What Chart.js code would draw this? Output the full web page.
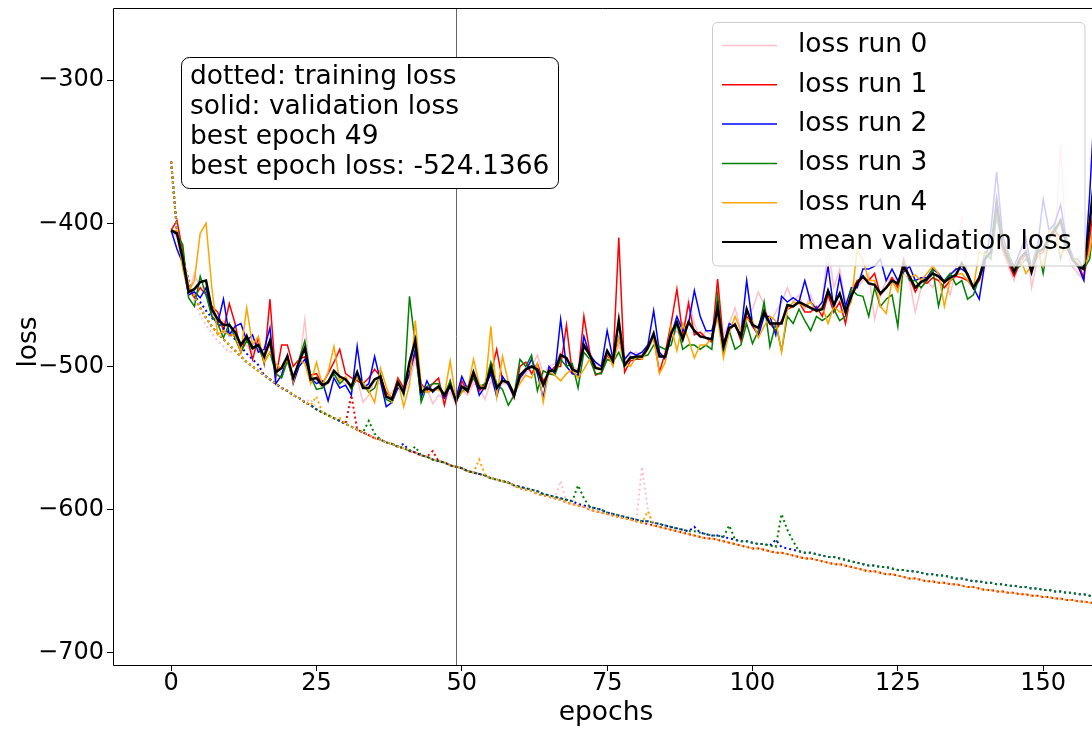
<!DOCTYPE html>
<html>
<head>
<meta charset="utf-8">
<script src="https://cdn.jsdelivr.net/npm/chart.js@4.4.0/dist/chart.umd.min.js"></script>
<style>
  html, body { margin: 0; padding: 0; background: #fff; }
  #wrap { width: 1092px; height: 729px; }
</style>
</head>
<body>
<div id="wrap"><canvas id="lossChart" width="1092" height="729"></canvas></div>
<script>
// axis ticks
const xTicks = [0, 25, 50, 75, 100, 125, 150];
const yTicks = [-700, -600, -500, -400, -300];

const bestEpoch = 49;
const bestEpochLoss = '-524.1366';

const runLabels = ['loss run 0', 'loss run 1', 'loss run 2', 'loss run 3', 'loss run 4'];
const meanLabel = 'mean validation loss';
const runColors = ['#ffc0cb', '#ff0000', '#0000ff', '#008000', '#ffa500'];

// validation loss per run, one value per epoch (0..159)
const valRun0 = [
  -405,-410,-430,-450,-435,-445,-445,-462,-470,-468,
  -475,-480,-485,-485,-490,-488,-495,-485,-498,-505,
  -497,-507,-500,-467,-512,-510,-515,-512,-505,-510,
  -512,-512,-508,-525,-520,-510,-512,-522,-518,-512,
  -519,-510,-495,-520,-515,-526,-520,-522,-518,-526,
  -516,-520,-512,-515,-523,-510,-518,-512,-512,-517,
  -510,-505,-500,-492,-505,-500,-498,-490,-495,-500,
  -502,-488,-490,-498,-500,-492,-495,-485,-498,-492,
  -490,-492,-485,-480,-490,-495,-480,-475,-482,-453,
  -470,-480,-475,-478,-468,-478,-470,-459,-475,-462,
  -460,-448,-457,-470,-462,-455,-445,-455,-450,-460,
  -450,-460,-455,-418,-445,-432,-455,-450,-445,-440,
  -435,-467,-450,-440,-438,-440,-435,-440,-462,-445,
  -440,-445,-435,-440,-450,-432,-395,-440,-445,-440,
  -430,-425,-395,-420,-430,-440,-425,-405,-445,-425,
  -420,-420,-415,-345,-420,-430,-435,-440,-415,-390
];
const valRun1 = [
  -405,-398,-420,-445,-452,-445,-450,-458,-462,-475,
  -456,-470,-490,-478,-495,-480,-498,-453,-508,-485,
  -485,-500,-495,-493,-506,-505,-512,-505,-497,-488,
  -505,-508,-510,-512,-508,-502,-507,-518,-522,-508,
  -515,-505,-490,-512,-517,-512,-508,-527,-510,-526,
  -510,-518,-508,-517,-512,-505,-488,-510,-512,-522,
  -500,-497,-505,-498,-510,-505,-500,-500,-471,-505,
  -506,-465,-490,-506,-504,-492,-498,-410,-504,-496,
  -495,-495,-485,-480,-504,-490,-470,-446,-478,-456,
  -478,-476,-480,-483,-439,-483,-475,-470,-482,-465,
  -472,-478,-460,-470,-475,-468,-460,-458,-455,-462,
  -462,-458,-465,-450,-462,-455,-470,-448,-440,-438,
  -440,-435,-450,-445,-438,-445,-425,-438,-448,-440,
  -442,-438,-440,-445,-440,-437,-438,-440,-445,-440,
  -425,-420,-385,-418,-428,-437,-428,-422,-433,-423,
  -420,-410,-405,-410,-415,-425,-428,-438,-410,-380
];
const valRun2 = [
  -405,-418,-428,-450,-448,-452,-445,-465,-470,-453,
  -478,-472,-470,-482,-478,-490,-488,-473,-512,-506,
  -492,-512,-500,-495,-508,-512,-510,-524,-508,-515,
  -513,-520,-486,-515,-512,-493,-510,-528,-525,-515,
  -517,-505,-488,-522,-510,-518,-514,-522,-514,-522,
  -507,-516,-505,-520,-514,-505,-521,-507,-513,-521,
  -508,-503,-495,-505,-522,-500,-505,-467,-500,-505,
  -506,-479,-492,-497,-500,-475,-495,-480,-495,-490,
  -492,-490,-485,-461,-490,-495,-478,-465,-475,-470,
  -447,-465,-475,-475,-460,-485,-470,-472,-478,-440,
  -470,-479,-465,-465,-478,-451,-455,-452,-455,-440,
  -455,-460,-455,-430,-460,-437,-458,-445,-445,-432,
  -432,-430,-425,-440,-432,-440,-434,-430,-440,-438,
  -438,-432,-435,-441,-436,-432,-432,-435,-445,-453,
  -427,-405,-364,-408,-422,-430,-420,-410,-432,-418,
  -383,-405,-400,-387,-412,-422,-430,-440,-380,-305
];
const valRun3 = [
  -405,-408,-415,-452,-458,-437,-450,-465,-470,-480,
  -470,-480,-490,-482,-488,-485,-497,-490,-505,-508,
  -496,-510,-495,-482,-507,-516,-515,-510,-505,-512,
  -508,-516,-508,-512,-518,-515,-505,-523,-525,-510,
  -520,-451,-485,-525,-514,-512,-512,-520,-510,-524,
  -518,-514,-508,-514,-512,-497,-512,-516,-527,-520,
  -495,-500,-492,-517,-503,-505,-506,-495,-500,-498,
  -515,-490,-495,-505,-505,-495,-497,-490,-500,-493,
  -495,-493,-492,-485,-486,-488,-485,-470,-488,-485,
  -485,-488,-485,-488,-450,-490,-475,-488,-485,-470,
  -484,-475,-455,-486,-470,-489,-465,-470,-460,-468,
  -475,-465,-468,-465,-460,-468,-465,-446,-450,-451,
  -465,-445,-458,-453,-450,-472,-427,-440,-440,-445,
  -440,-432,-458,-440,-435,-443,-440,-453,-450,-438,
  -420,-425,-395,-415,-420,-433,-430,-425,-430,-415,
  -435,-410,-402,-425,-410,-425,-425,-432,-425,-390
];
const valRun4 = [
  -405,-405,-432,-448,-440,-407,-400,-445,-478,-475,
  -478,-478,-490,-459,-485,-479,-497,-490,-498,-502,
  -495,-511,-495,-498,-512,-497,-513,-504,-486,-510,
  -507,-514,-508,-511,-517,-525,-501,-514,-525,-510,
  -528,-513,-468,-513,-518,-517,-516,-520,-496,-523,
  -518,-516,-495,-512,-516,-472,-521,-493,-511,-518,
  -512,-506,-508,-498,-525,-503,-506,-510,-505,-502,
  -508,-502,-495,-500,-502,-490,-500,-480,-498,-500,
  -493,-495,-488,-480,-505,-497,-472,-489,-470,-481,
  -494,-485,-485,-480,-466,-494,-476,-465,-475,-467,
  -468,-480,-472,-465,-468,-490,-460,-455,-456,-458,
  -455,-462,-458,-470,-458,-462,-462,-455,-418,-426,
  -440,-440,-458,-463,-440,-448,-430,-438,-436,-440,
  -435,-430,-435,-458,-440,-436,-435,-440,-445,-420,
  -422,-420,-385,-412,-425,-432,-423,-435,-430,-420,
  -430,-405,-405,-422,-418,-423,-430,-432,-420,-395
];
const valMean = [
  -405,-407,-425,-448,-446,-441,-440,-460,-467,-471,
  -471,-476,-485,-479,-487,-485,-493,-482,-504,-501,
  -493,-508,-497,-487,-509,-508,-513,-511,-503,-507,
  -509,-514,-504,-515,-515,-509,-507,-521,-523,-511,
  -518,-497,-482,-518,-515,-517,-514,-520,-513,-524,
  -514,-517,-504,-515,-515,-501,-515,-510,-511,-520,
  -506,-502,-500,-502,-513,-503,-503,-492,-494,-502,
  -504,-485,-492,-501,-502,-489,-496,-468,-499,-494,
  -493,-493,-487,-477,-493,-493,-477,-469,-481,-469,
  -475,-479,-480,-481,-459,-486,-473,-471,-479,-460,
  -471,-473,-462,-470,-470,-470,-457,-458,-455,-457,
  -459,-461,-460,-447,-457,-449,-462,-451,-442,-437,
  -442,-443,-449,-445,-440,-442,-430,-437,-445,-441,
  -439,-435,-437,-441,-438,-436,-428,-436,-445,-438,
  -425,-420,-385,-415,-425,-434,-425,-420,-434,-420,
  -418,-410,-405,-398,-415,-425,-430,-432,-400,-360
];

// training loss: the two smooth bands (runs 2,3 sit slightly above runs 0,1,4)
const trainUpper = [
  -357,-405,-425,-440,-451,-459,-466,-472,-477,-481,
  -485,-489,-493,-497,-500,-503,-506,-509,-512,-515,
  -517,-520,-522,-525,-527,-530,-532,-534,-536,-538,
  -540,-542,-544,-546,-548,-550,-551,-553,-554,-556,
  -557,-559,-560,-562,-563,-565,-566,-567,-569,-570,
  -571,-573,-574,-575,-576,-578,-579,-580,-581,-583,
  -584,-585,-586,-587,-589,-590,-591,-592,-593,-594,
  -596,-597,-598,-599,-600,-602,-603,-604,-605,-606,
  -607,-608,-608,-609,-610,-611,-612,-613,-614,-615,
  -615,-616,-617,-618,-618,-619,-620,-621,-622,-622,
  -623,-624,-624,-625,-626,-626,-627,-628,-629,-630,
  -630,-631,-632,-633,-633,-634,-635,-636,-637,-638,
  -639,-639,-640,-640,-641,-642,-642,-643,-643,-644,
  -645,-645,-646,-646,-647,-648,-648,-649,-650,-650,
  -651,-651,-652,-652,-653,-653,-654,-654,-655,-655,
  -656,-656,-657,-657,-658,-658,-659,-659,-660,-661
];
const trainLower = [
  -357,-405,-425,-440,-451,-459,-466,-472,-477,-481,
  -485,-489,-493,-497,-500,-503,-506,-509,-512,-515,
  -517,-520,-522,-525,-527,-530,-532,-534,-536,-538,
  -540,-542,-544,-546,-548,-550,-551,-553,-554,-556,
  -557,-559,-560,-562,-563,-565,-566,-567,-569,-570,
  -571,-573,-574,-575,-576,-578,-579,-580,-581,-583,
  -585,-586,-587,-589,-590,-591,-592,-593,-595,-596,
  -597,-598,-600,-601,-602,-603,-604,-605,-606,-607,
  -608,-609,-610,-611,-612,-613,-614,-615,-616,-617,
  -618,-619,-620,-620,-621,-622,-623,-624,-625,-626,
  -627,-627,-628,-629,-630,-630,-631,-632,-633,-634,
  -634,-635,-636,-637,-638,-638,-639,-640,-641,-642,
  -643,-643,-644,-645,-645,-646,-647,-648,-648,-649,
  -650,-650,-651,-651,-652,-652,-653,-654,-654,-655,
  -656,-656,-657,-657,-658,-658,-659,-659,-660,-660,
  -661,-661,-662,-662,-663,-663,-664,-664,-665,-665
];
// [epoch, training loss] where a run leaves its band
const trainSpikes0 = [[4, -455], [5, -464], [6, -471], [7, -477], [8, -482], [9, -486], [10, -490],
                      [24, -523], [67, -580], [81, -570], [82, -600]];
const trainSpikes1 = [[31, -520], [45, -559]];
const trainSpikes2 = [[5, -455], [6, -461], [7, -466], [8, -470], [9, -473], [10, -477], [11, -481],
                      [12, -486], [13, -491], [14, -495], [15, -499], [40, -554], [90, -612], [104, -621]];
const trainSpikes3 = [[34, -538], [35, -547], [42, -556], [70, -583], [71, -592], [96, -611],
                      [105, -603], [106, -614], [107, -622]];
const trainSpikes4 = [[25, -521], [29, -536], [53, -565], [82, -601]];

function withSpikes(band, spikes) {
  const out = band.slice();
  spikes.forEach(([e, v]) => { out[e] = v; });
  return out;
}
const toPoints = arr => arr.map((v, i) => ({ x: i, y: v }));

const valRuns = [valRun0, valRun1, valRun2, valRun3, valRun4];
const trainRuns = [
  withSpikes(trainLower, trainSpikes0),
  withSpikes(trainLower, trainSpikes1),
  withSpikes(trainUpper, trainSpikes2),
  withSpikes(trainUpper, trainSpikes3),
  withSpikes(trainLower, trainSpikes4)
];

const datasets = [];
valRuns.forEach((vals, i) => {
  datasets.push({ label: runLabels[i], data: toPoints(vals), borderColor: runColors[i], borderWidth: 1.5 });
  datasets.push({ label: 'train ' + i, data: toPoints(trainRuns[i]), borderColor: runColors[i],
                  borderWidth: 2, borderDash: [2, 3] });
});
datasets.push({ label: meanLabel, data: toPoints(valMean), borderColor: '#000000', borderWidth: 2.5 });
// first pushed is drawn first, mean ends on top
datasets.forEach((d, i) => {
  d.order = datasets.length - i;
  d.pointRadius = 0;
  d.tension = 0;
  d.fill = false;
});

const FONT = 'DejaVu Sans';

function roundBox(ctx, x, y, w, h, r) {
  ctx.beginPath();
  ctx.moveTo(x + r, y);
  ctx.arcTo(x + w, y, x + w, y + h, r);
  ctx.arcTo(x + w, y + h, x, y + h, r);
  ctx.arcTo(x, y + h, x, y, r);
  ctx.arcTo(x, y, x + w, y, r);
  ctx.closePath();
}

// best-epoch line, spines, info box, legend and axis titles
const overlayPlugin = {
  id: 'overlay',
  afterDraw(chart) {
    const { ctx, chartArea: a, scales: { x } } = chart;
    ctx.save();

    const bx = Math.round(x.getPixelForValue(bestEpoch)) + 0.5;
    ctx.strokeStyle = '#666666';
    ctx.lineWidth = 1;
    ctx.beginPath();
    ctx.moveTo(bx, a.top);
    ctx.lineTo(bx, a.bottom);
    ctx.stroke();

    ctx.strokeStyle = '#000';
    ctx.lineWidth = 1;
    ctx.beginPath();
    ctx.moveTo(a.right, a.top + 0.5);
    ctx.lineTo(a.left + 0.5, a.top + 0.5);
    ctx.lineTo(a.left + 0.5, a.bottom + 0.5);
    ctx.lineTo(a.right, a.bottom + 0.5);
    ctx.stroke();

    // info box
    roundBox(ctx, 181.5, 57.5, 377, 131, 8);
    ctx.fillStyle = '#fff';
    ctx.fill();
    ctx.strokeStyle = '#000';
    ctx.stroke();
    const info = ['dotted: training loss', 'solid: validation loss',
                  'best epoch ' + bestEpoch, 'best epoch loss: ' + bestEpochLoss];
    ctx.fillStyle = '#000';
    ctx.font = '26.5px "' + FONT + '"';
    ctx.textAlign = 'left';
    ctx.textBaseline = 'middle';
    info.forEach((t, i) => ctx.fillText(t, 190, 77 + i * 30));

    // legend
    roundBox(ctx, 712.5, 22.5, 372.5, 243.5, 5);
    ctx.fillStyle = 'rgba(255,255,255,0.8)';
    ctx.fill();
    ctx.strokeStyle = '#cccccc';
    ctx.lineWidth = 1;
    ctx.stroke();
    const entries = runLabels.map((l, i) => [l, runColors[i], 1.5]).concat([[meanLabel, '#000', 2]]);
    entries.forEach(([label, color, w], i) => {
      const cy = 45.5 + i * 39.3;
      ctx.strokeStyle = color;
      ctx.lineWidth = w;
      ctx.beginPath();
      ctx.moveTo(722, cy);
      ctx.lineTo(777, cy);
      ctx.stroke();
      ctx.fillStyle = '#000';
      ctx.fillText(label, 798, cy);
    });

    // axis titles
    ctx.textAlign = 'center';
    ctx.fillText('epochs', 606, 713);
    ctx.translate(29, 342);
    ctx.rotate(-Math.PI / 2);
    ctx.fillText('loss', 0, 0);
    ctx.restore();
  }
};

const ctx = document.getElementById('lossChart').getContext('2d');
new Chart(ctx, {
  type: 'line',
  data: { datasets },
  options: {
    responsive: false,
    animation: false,
    events: [],
    layout: { padding: { top: 8, left: 0, right: 0, bottom: 0 } },
    plugins: { legend: { display: false }, tooltip: { enabled: false } },
    scales: {
      x: {
        type: 'linear',
        min: -10,
        max: 158.4,
        afterBuildTicks: s => { s.ticks = xTicks.map(v => ({ value: v })); },
        afterFit: s => { s.height = 64; s.paddingLeft = 0; s.paddingRight = 0; },
        border: { display: false },
        grid: { drawOnChartArea: false, tickLength: 6, tickColor: '#000', tickWidth: 1 },
        ticks: { color: '#000', font: { family: FONT, size: 24 }, padding: -2, maxRotation: 0, autoSkip: false }
      },
      y: {
        type: 'linear',
        min: -708.4,
        max: -249.7,
        afterBuildTicks: s => { s.ticks = yTicks.map(v => ({ value: v })); },
        afterFit: s => { s.width = 113; s.paddingTop = 0; s.paddingBottom = 0; },
        border: { display: false },
        grid: { drawOnChartArea: false, tickLength: 6, tickColor: '#000', tickWidth: 1 },
        ticks: {
          color: '#000', font: { family: FONT, size: 24 }, padding: 3, autoSkip: false,
          callback: v => (v < 0 ? '\u2212' : '') + Math.abs(v)
        }
      }
    }
  },
  plugins: [overlayPlugin]
});
</script>
</body>
</html>
